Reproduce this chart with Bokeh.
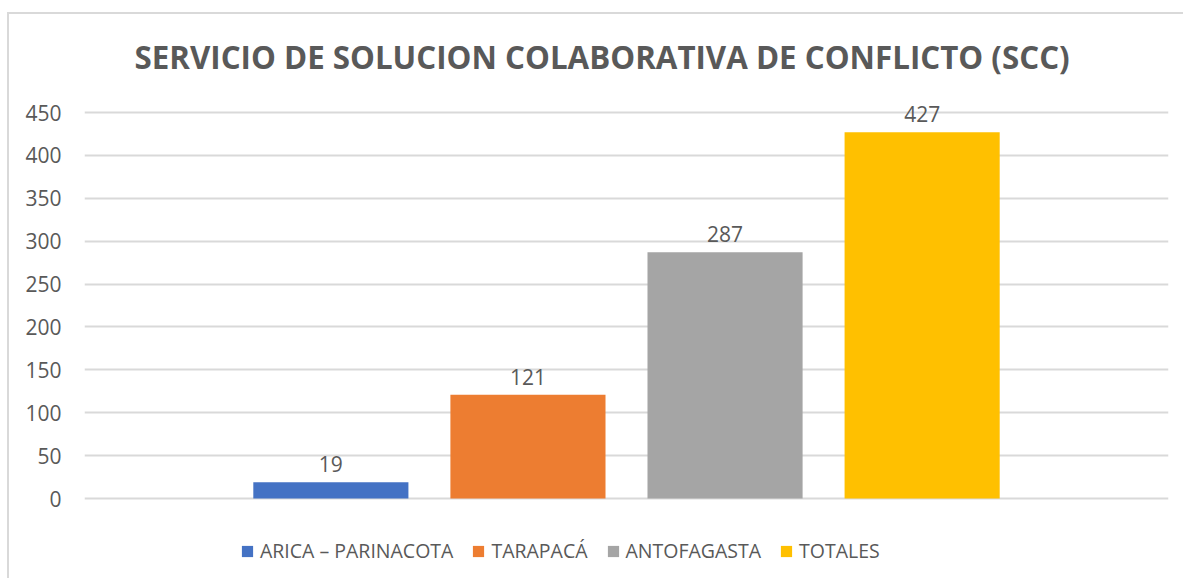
from bokeh.plotting import figure
from bokeh.models import Range1d, FactorRange, ColumnDataSource, Legend, LegendItem, FixedTicker, Title
from bokeh.embed import file_html
from bokeh.resources import INLINE

series = ["ARICA – PARINACOTA", "TARAPACÁ", "ANTOFAGASTA", "TOTALES"]
values = [19, 121, 287, 427]
colors = ["#4472C4", "#ED7D31", "#A5A5A5", "#FFC000"]
y_ticks = [0, 50, 100, 150, 200, 250, 300, 350, 400, 450]

FONT = "Open Sans"
GREY = "#595959"

# layout (pixels)
ppu = 386 / 450            # pixels per value unit
frame_h = 485              # frame spans the legend area too
top_pad_px = 22            # space between 450 gridline and frame top
bottom_pad_px = 77         # space below the 0 line (legend area)
y_start = -bottom_pad_px / ppu
y_end = 450 + top_pad_px / ppu

p = figure(
    x_range=FactorRange(*series, range_padding=0.75, range_padding_units="absolute"),
    y_range=Range1d(y_start, y_end),
    width=75 + 1084 + 15, height=76 + frame_h + 3,
    frame_width=1084, frame_height=frame_h,
    min_border_left=75, min_border_right=15, min_border_top=76, min_border_bottom=3,
    x_axis_location=None,
    output_backend="svg", toolbar_location=None,
)
p.styles = {"border-top": "2px solid #d9d9d9", "border-left": "2px solid #d9d9d9",
            "margin-top": "12px", "margin-left": "7px"}
p.outline_line_color = None
p.background_fill_color = "white"

src = ColumnDataSource(dict(x=series, top=values, color=colors, label=[str(v) for v in values]))
r = p.vbar(x="x", top="top", bottom=0, width=0.787, color="color", source=src, line_color=None)
p.text(x="x", y="top", text="label", source=src, text_align="center", text_baseline="alphabetic",
       y_offset=-18, text_color=GREY, text_font_size="21px", text_font={"value": FONT})

p.xgrid.visible = False
p.ygrid.grid_line_color = "#d9d9d9"
p.ygrid.grid_line_width = 2
p.yaxis.ticker = FixedTicker(ticks=y_ticks)
p.yaxis.axis_line_color = None
p.yaxis.major_tick_line_color = None
p.yaxis.minor_tick_line_color = None
p.yaxis.major_label_text_font = FONT
p.yaxis.major_label_text_font_size = "21px"
p.yaxis.major_label_text_color = GREY
p.yaxis.major_label_standoff = 17

title = Title(text="SERVICIO DE SOLUCION COLABORATIVA DE CONFLICTO (SCC)", align="left",
              text_font=FONT, text_font_size="31.3px", text_font_style="bold", text_color=GREY,
              standoff=26, offset=50)
p.add_layout(title, "above")

items = [LegendItem(label=s, renderers=[r], index=i) for i, s in enumerate(series)]
legend = Legend(items=items, orientation="horizontal", location=(156, 11),
                label_text_font=FONT, label_text_font_size="19.5px", label_text_color=GREY,
                glyph_width=14, glyph_height=14, label_standoff=6, spacing=18,
                border_line_color=None, background_fill_alpha=0, padding=0, margin=0)
p.add_layout(legend, "center")

open("out.html", "w").write(file_html(p, INLINE))
